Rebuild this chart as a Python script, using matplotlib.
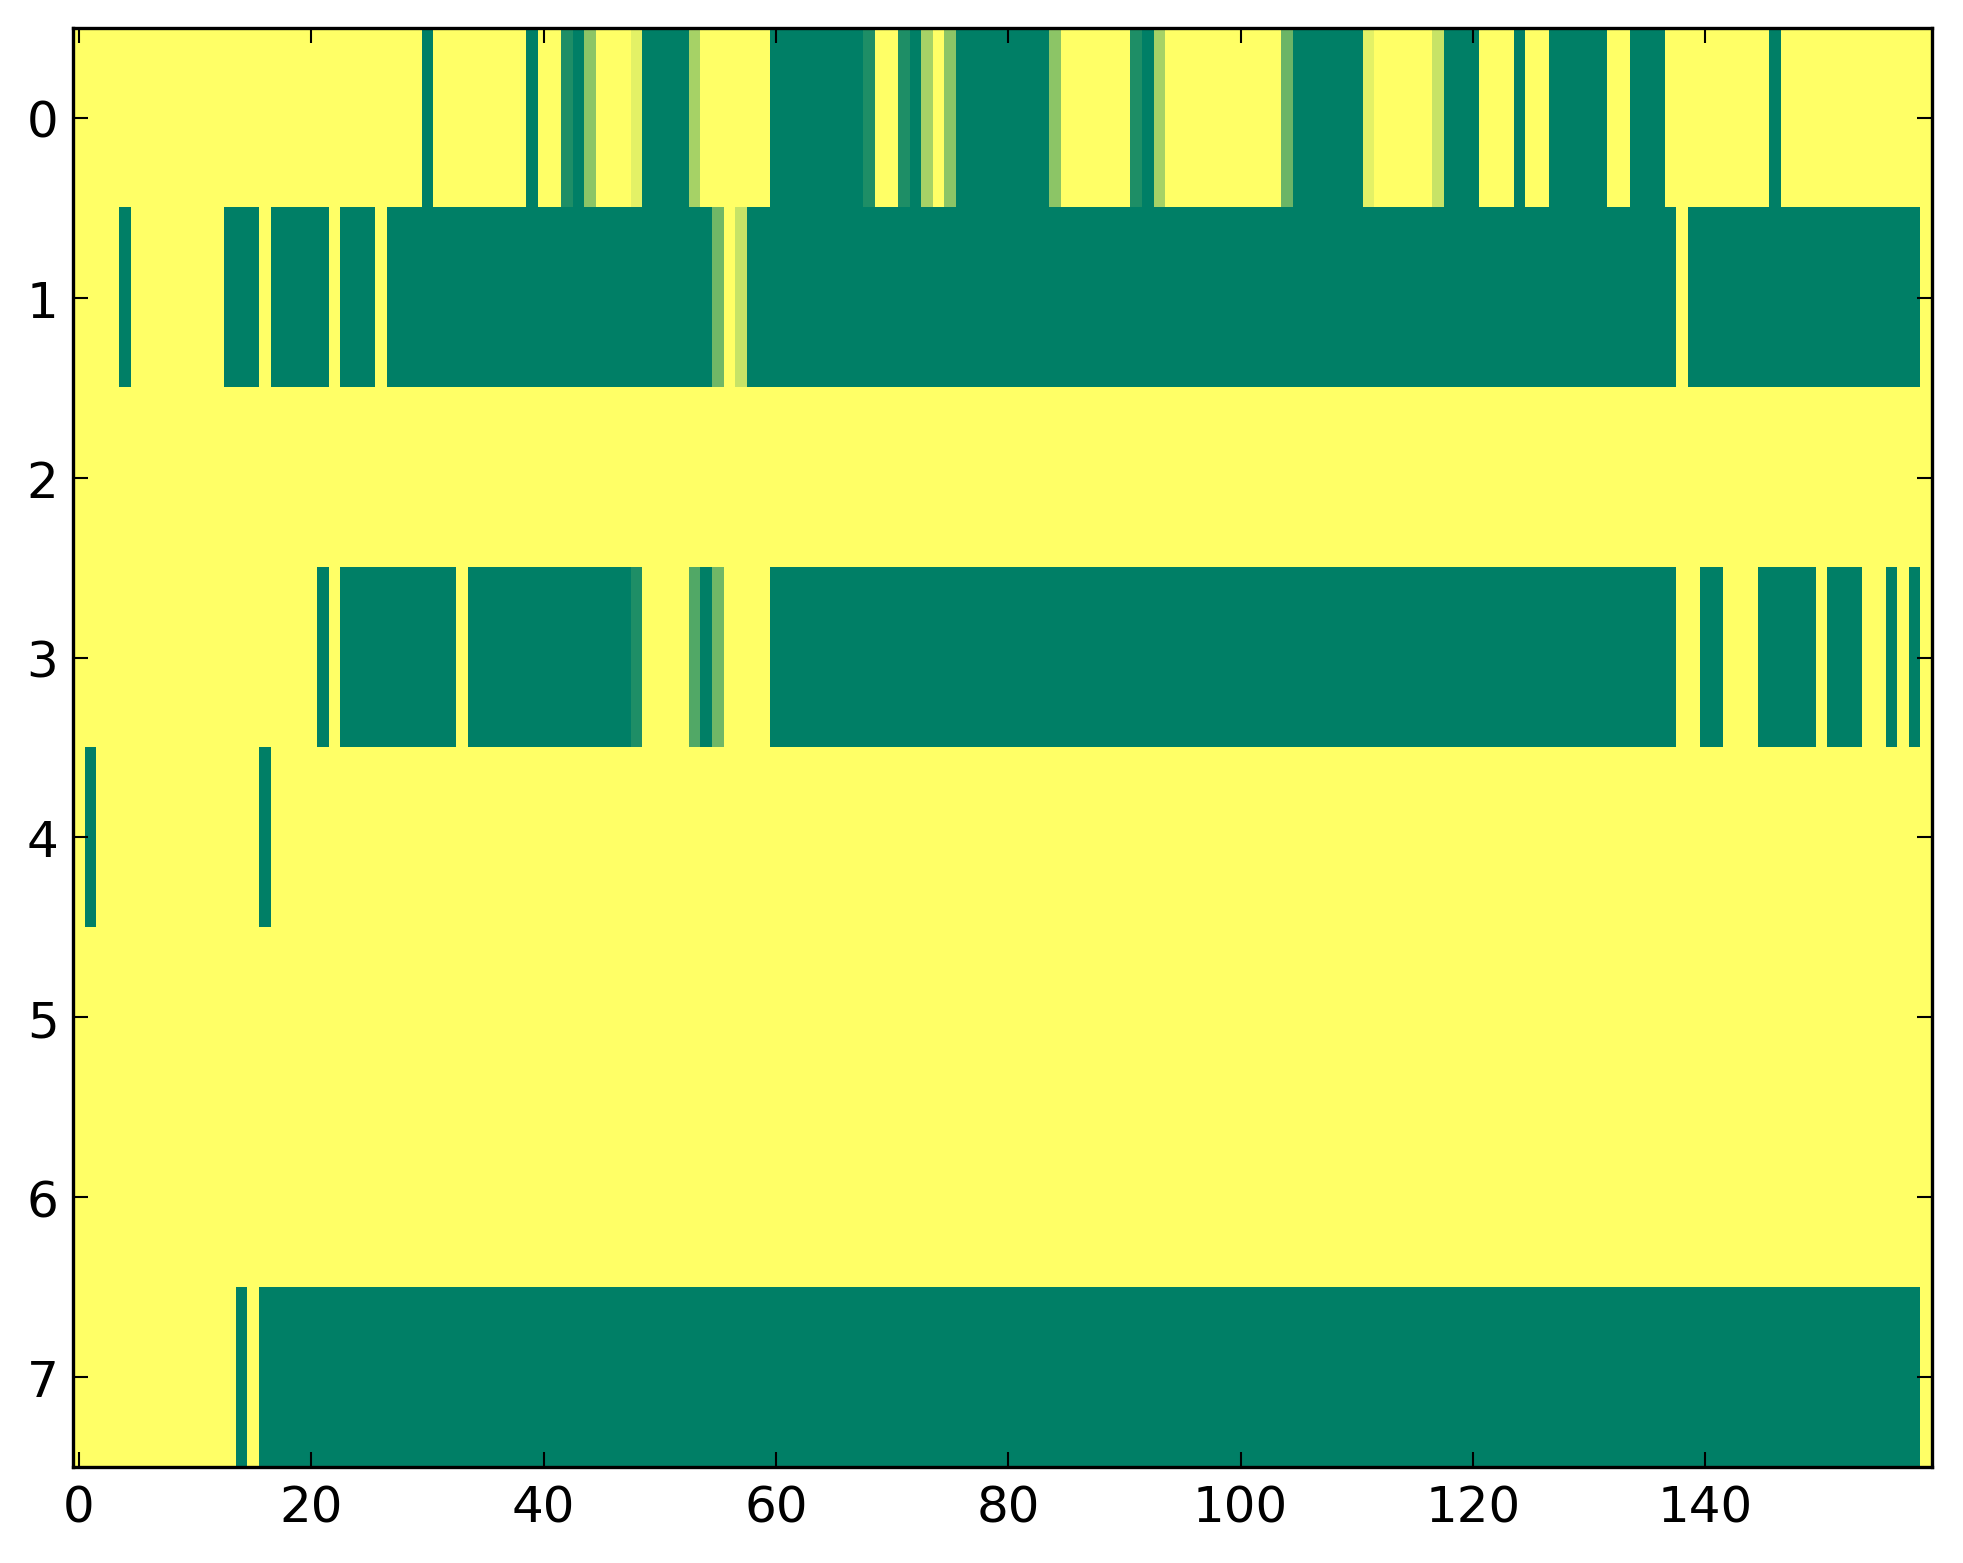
import numpy as np
import matplotlib
matplotlib.use("Agg")
import matplotlib.pyplot as plt

# one value per column (160 columns), 1 = yellow, 0 = green
row_0 = [1, 1, 1, 1, 1, 1, 1, 1, 1, 1, 1, 1, 1, 1, 1, 1, 1, 1, 1, 1,
         1, 1, 1, 1, 1, 1, 1, 1, 1, 1, 0, 1, 1, 1, 1, 1, 1, 1, 1, 0,
         1, 1, .12, 0, .55, 1, 1, 1, .89, 0, 0, 0, 0, .65, 1, 1, 1, 1, 1, 1,
         0, 0, 0, 0, 0, 0, 0, 0, .12, 1, 1, .12, 0, .65, 1, .55, 0, 0, 0, 0,
         0, 0, 0, 0, .55, 1, 1, 1, 1, 1, 1, .12, 0, .65, 1, 1, 1, 1, 1, 1,
         1, 1, 1, 1, .42, 0, 0, 0, 0, 0, 0, .89, 1, 1, 1, 1, 1, .78, 0, 0,
         0, 1, 1, 1, 0, 1, 1, 0, 0, 0, 0, 0, 1, 1, 0, 0, 0, 1, 1, 1,
         1, 1, 1, 1, 1, 1, 0, 1, 1, 1, 1, 1, 1, 1, 1, 1, 1, 1, 1, 1]
row_1 = [1, 1, 1, 1, 0, 1, 1, 1, 1, 1, 1, 1, 1, 0, 0, 0, 1, 0, 0, 0,
         0, 0, 1, 0, 0, 0, 1, 0, 0, 0, 0, 0, 0, 0, 0, 0, 0, 0, 0, 0,
         0, 0, 0, 0, 0, 0, 0, 0, 0, 0, 0, 0, 0, 0, 0, .44, 1, .78, 0, 0,
         0, 0, 0, 0, 0, 0, 0, 0, 0, 0, 0, 0, 0, 0, 0, 0, 0, 0, 0, 0,
         0, 0, 0, 0, 0, 0, 0, 0, 0, 0, 0, 0, 0, 0, 0, 0, 0, 0, 0, 0,
         0, 0, 0, 0, 0, 0, 0, 0, 0, 0, 0, 0, 0, 0, 0, 0, 0, 0, 0, 0,
         0, 0, 0, 0, 0, 0, 0, 0, 0, 0, 0, 0, 0, 0, 0, 0, 0, 0, 1, 0,
         0, 0, 0, 0, 0, 0, 0, 0, 0, 0, 0, 0, 0, 0, 0, 0, 0, 0, 0, 1]
row_2 = [1] * 160
row_3 = [1, 1, 1, 1, 1, 1, 1, 1, 1, 1, 1, 1, 1, 1, 1, 1, 1, 1, 1, 1,
         1, 0, 1, 0, 0, 0, 0, 0, 0, 0, 0, 0, 0, 1, 0, 0, 0, 0, 0, 0,
         0, 0, 0, 0, 0, 0, 0, 0, .12, 1, 1, 1, 1, .32, 0, .44, 1, 1, 1, 1,
         0, 0, 0, 0, 0, 0, 0, 0, 0, 0, 0, 0, 0, 0, 0, 0, 0, 0, 0, 0,
         0, 0, 0, 0, 0, 0, 0, 0, 0, 0, 0, 0, 0, 0, 0, 0, 0, 0, 0, 0,
         0, 0, 0, 0, 0, 0, 0, 0, 0, 0, 0, 0, 0, 0, 0, 0, 0, 0, 0, 0,
         0, 0, 0, 0, 0, 0, 0, 0, 0, 0, 0, 0, 0, 0, 0, 0, 0, 0, 1, 1,
         0, 0, 1, 1, 1, 0, 0, 0, 0, 0, 1, 0, 0, 0, 1, 1, 0, 1, 0, 1]
row_4 = [1, 0, 1, 1, 1, 1, 1, 1, 1, 1, 1, 1, 1, 1, 1, 1, 0, 1, 1, 1] + [1] * 140
row_5 = [1] * 160
row_6 = [1] * 160
row_7 = [1, 1, 1, 1, 1, 1, 1, 1, 1, 1, 1, 1, 1, 1, 0, 1] + [0] * 143 + [1]

grid = np.array([row_0, row_1, row_2, row_3, row_4, row_5, row_6, row_7], dtype=float)

plt.rcParams['font.family'] = 'DejaVu Sans'
plt.rcParams['font.size'] = 12
plt.rcParams['axes.linewidth'] = 0.8

fig = plt.figure(figsize=(1963 / 300, 1564 / 300), dpi=300, facecolor='white')
ax = fig.add_axes([0.0372, 0.0614, 0.947, 0.9201])
ax.imshow(grid, cmap='summer', vmin=0, vmax=1, interpolation='nearest', aspect='auto')

ax.set_xticks(np.arange(0, 160, 20))
ax.set_yticks(np.arange(0, 8))
ax.tick_params(direction='in', top=True, right=True, length=3.6, width=0.5)
ax.tick_params(axis='x', pad=4)
ax.tick_params(axis='y', pad=3.5)

fig.savefig('out.png', dpi=300, facecolor='white')
